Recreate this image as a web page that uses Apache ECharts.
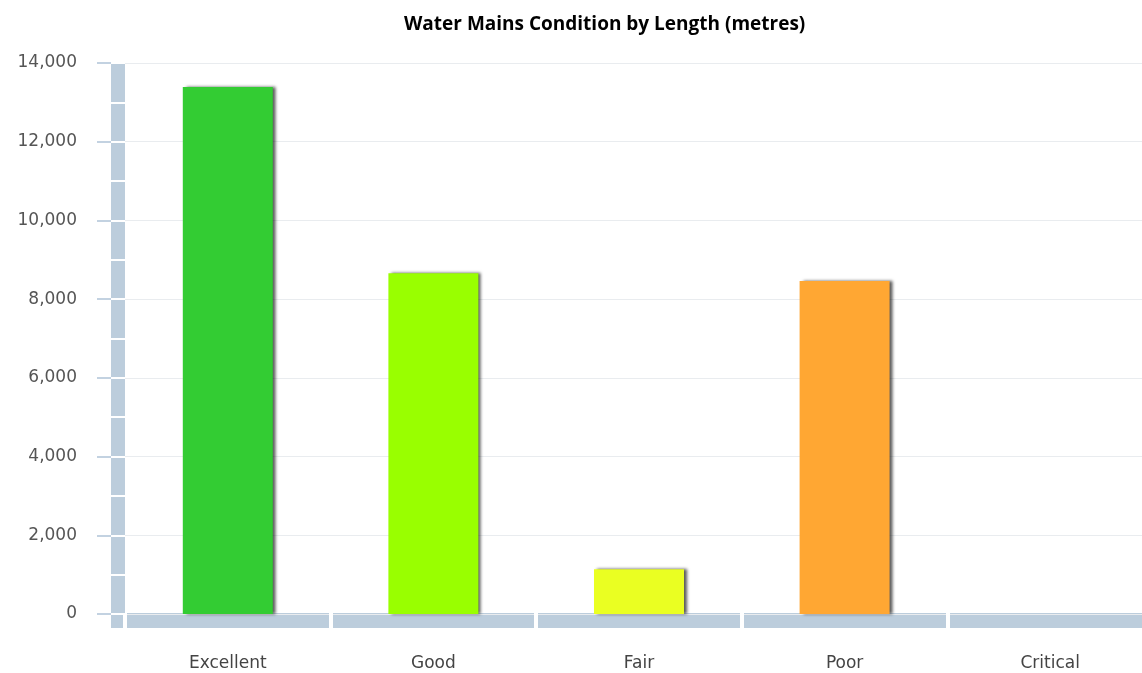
<!DOCTYPE html>
<html>
<head>
<meta charset="utf-8">
<script src="https://cdn.jsdelivr.net/npm/echarts@6/dist/echarts.min.js"></script>
<style>
  html, body { margin: 0; padding: 0; background: #fff; }
  #main { width: 1142px; height: 673px; }
</style>
</head>
<body>
<div id="main"></div>
<script>
const categories = ['Excellent', 'Good', 'Fair', 'Poor', 'Critical'];
const lengths = [13390, 8660, 1140, 8460, 0];
const barColors = ['#33cc33', '#99ff00', '#eaff22', '#ffa733', '#ff3333'];

const bandColor = '#bccddc';
const chart = echarts.init(document.getElementById('main'), null, { renderer: 'canvas' });

const option = {
  animation: false,
  title: {
    text: 'Water Mains Condition by Length (metres)',
    left: 399,
    top: 10,
    textStyle: { fontFamily: 'Open Sans', fontWeight: 'bold', fontSize: 19, color: '#000' }
  },
  grid: [
    // main plot, runs past the right edge of the picture
    { left: 125, width: 1028, top: 63, height: 551, outerBoundsMode: 'none' },
    // left band
    { left: 111, width: 14, top: 63, height: 551, show: true, backgroundColor: bandColor, borderWidth: 0, outerBoundsMode: 'none' },
    // bottom band
    { left: 125, width: 1028, top: 613, height: 15, show: true, backgroundColor: bandColor, borderWidth: 0, outerBoundsMode: 'none' },
    // corner square
    { left: 111, width: 12, top: 615, height: 13, show: true, backgroundColor: bandColor, borderWidth: 0, outerBoundsMode: 'none' }
  ],
  xAxis: [
    {
      gridIndex: 0,
      type: 'category',
      data: categories,
      axisLine: { show: false },
      axisTick: { show: false },
      axisLabel: { margin: 41, fontFamily: 'DejaVu Sans', fontSize: 17, color: '#444' }
    },
    { gridIndex: 1, type: 'value', show: false },
    {
      gridIndex: 2,
      type: 'category',
      data: categories,
      axisLine: { show: false },
      axisTick: { show: false },
      axisLabel: { show: false },
      splitLine: { show: true, lineStyle: { color: '#fff', width: 4 } }
    },
    { gridIndex: 3, type: 'value', show: false }
  ],
  yAxis: [
    {
      gridIndex: 0,
      type: 'value',
      min: 0,
      max: 14000,
      interval: 2000,
      offset: 14,
      axisLine: { show: false },
      axisTick: { show: true, length: 14, lineStyle: { color: '#c3d2e1', width: 2 } },
      axisLabel: {
        margin: 34,
        fontFamily: 'DejaVu Sans',
        fontSize: 17,
        color: '#555',
        formatter: v => v.toLocaleString('en-US')
      },
      splitLine: { show: true, lineStyle: { color: '#e9ecef', width: 1 } }
    },
    {
      gridIndex: 1,
      type: 'value',
      min: 0,
      max: 14000,
      interval: 1000,
      axisLine: { show: false },
      axisTick: { show: false },
      axisLabel: { show: false },
      splitLine: { show: true, lineStyle: { color: '#fff', width: 2 } }
    },
    { gridIndex: 2, type: 'value', show: false },
    { gridIndex: 3, type: 'value', show: false }
  ],
  series: [
    {
      type: 'bar',
      xAxisIndex: 0,
      yAxisIndex: 0,
      barWidth: 90,
      data: lengths.map((v, i) => ({
        value: v,
        itemStyle: {
          color: barColors[i],
          shadowColor: 'rgba(0,0,0,0.65)',
          shadowBlur: 3,
          shadowOffsetX: 3,
          shadowOffsetY: 0
        }
      }))
    }
  ]
};

chart.setOption(option);
</script>
</body>
</html>
